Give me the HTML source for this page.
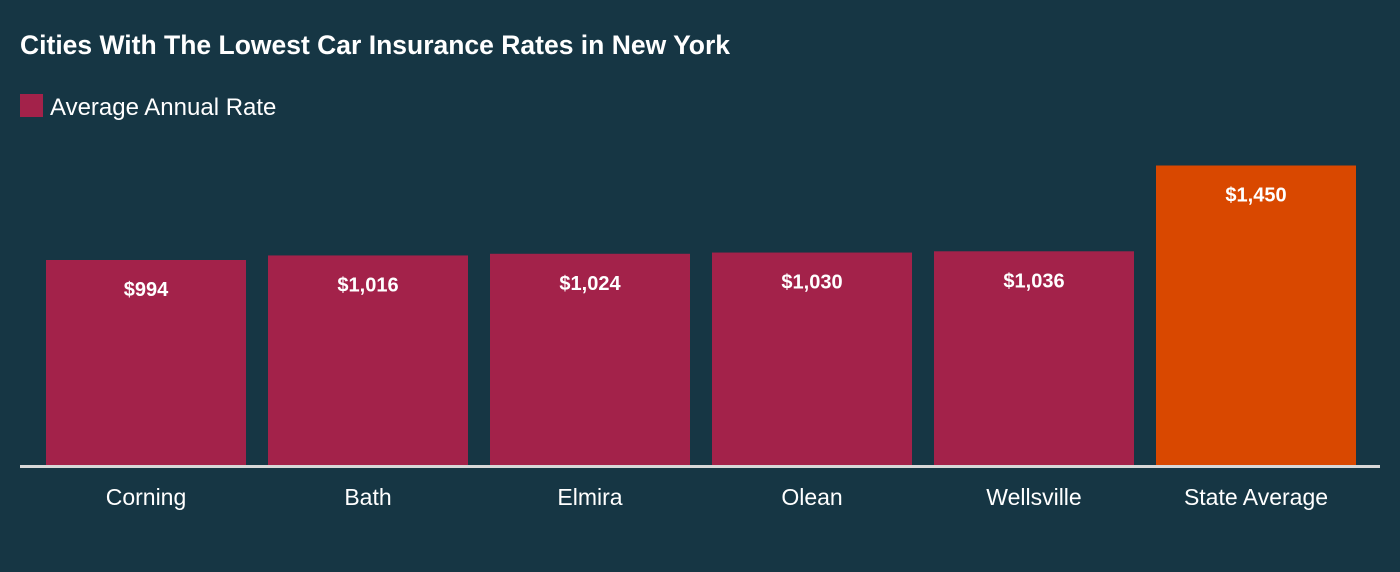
<!DOCTYPE html>
<html><head><meta charset="utf-8"><style>
html,body{margin:0;padding:0;background:#163644;width:1400px;height:572px;overflow:hidden;font-family:"Liberation Sans",sans-serif;color:#fff}
svg{display:block}
</style></head><body>
<svg width="1400" height="572">
<rect width="1400" height="572" fill="#163644"/>
<text x="20" y="54" font-size="26.5" font-weight="bold" fill="#fff">Cities With The Lowest Car Insurance Rates in New York</text>
<rect x="20" y="94" width="23" height="23" fill="#A3224A"/>
<text x="50" y="115" font-size="24" fill="#fff">Average Annual Rate</text>
<g id="bars"></g>
<line x1="20" x2="1380" y1="466.5" y2="466.5" stroke="#d8d8d8" stroke-width="3"/>
</svg>
<script>
const categories=["Corning","Bath","Elmira","Olean","Wellsville","State Average"];
const values=[994,1016,1024,1030,1036,1450];
const labels=["$994","$1,016","$1,024","$1,030","$1,036","$1,450"];
const base=466,scale=206/994;
const y=v=>base-v*scale;
const x=i=>46+i*222;
const g=document.getElementById('bars');
const ns="http://www.w3.org/2000/svg";
categories.forEach((c,i)=>{
  const r=document.createElementNS(ns,'rect');
  r.setAttribute('x',x(i));r.setAttribute('y',y(values[i]));
  r.setAttribute('width',200);r.setAttribute('height',base-y(values[i]));
  r.setAttribute('fill',i===5?'#D94800':'#A3224A');
  
  
  g.appendChild(r);
  const t=document.createElementNS(ns,'text');
  t.setAttribute('x',x(i)+100);t.setAttribute('y',y(values[i])+36);
  t.setAttribute('text-anchor','middle');t.setAttribute('font-size','20');t.setAttribute('font-weight','bold');t.setAttribute('fill','#fff');
  t.textContent=labels[i];
  
  
  g.appendChild(t);
  const l=document.createElementNS(ns,'text');
  l.setAttribute('x',x(i)+100);l.setAttribute('y',505);
  l.setAttribute('text-anchor','middle');l.setAttribute('font-size','23');l.setAttribute('fill','#fff');
  l.textContent=c;
  
  
  g.appendChild(l);
});
</script>
</body></html>
